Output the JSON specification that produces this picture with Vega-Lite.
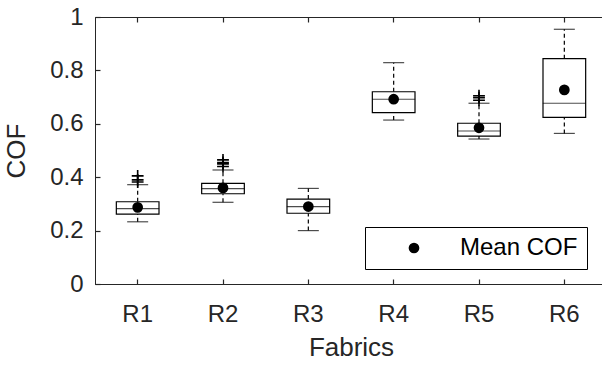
{
  "$schema": "https://vega.github.io/schema/vega-lite/v6.json",
  "autosize": "none",
  "padding": {"left": 95, "top": 17, "right": 0, "bottom": 82},
  "width": 512,
  "height": 267,
  "background": "white",
  "config": {
    "font": "Liberation Sans",
    "view": {"stroke": "#262626", "strokeWidth": 1},
    "axis": {
      "domainColor": "#262626",
      "tickColor": "#262626",
      "labelColor": "#262626",
      "titleColor": "#262626",
      "labelFont": "Liberation Sans",
      "titleFont": "Liberation Sans",
      "labelFontSize": 24,
      "labelFontWeight": "normal",
      "titleFontSize": 26,
      "titleFontWeight": "normal",
      "grid": false,
      "tickSize": -5,
      "tickWidth": 1.2
    }
  },
  "datasets": {
    "stats": [
      {"fabric": "R1", "lower": 0.233, "q1": 0.262, "median": 0.282, "q3": 0.308, "upper": 0.372, "mean": 0.287},
      {"fabric": "R2", "lower": 0.306, "q1": 0.338, "median": 0.357, "q3": 0.377, "upper": 0.427, "mean": 0.36},
      {"fabric": "R3", "lower": 0.2, "q1": 0.265, "median": 0.29, "q3": 0.318, "upper": 0.358, "mean": 0.29},
      {"fabric": "R4", "lower": 0.614, "q1": 0.642, "median": 0.692, "q3": 0.72, "upper": 0.829, "mean": 0.692},
      {"fabric": "R5", "lower": 0.543, "q1": 0.554, "median": 0.573, "q3": 0.602, "upper": 0.677, "mean": 0.585},
      {"fabric": "R6", "lower": 0.564, "q1": 0.624, "median": 0.677, "q3": 0.844, "upper": 0.954, "mean": 0.727}
    ],
    "outliers": [
      {"fabric": "R1", "value": 0.382},
      {"fabric": "R1", "value": 0.39},
      {"fabric": "R1", "value": 0.405},
      {"fabric": "R2", "value": 0.44},
      {"fabric": "R2", "value": 0.45},
      {"fabric": "R2", "value": 0.455},
      {"fabric": "R2", "value": 0.465},
      {"fabric": "R5", "value": 0.688},
      {"fabric": "R5", "value": 0.698},
      {"fabric": "R5", "value": 0.705}
    ]
  },
  "layer": [
    {
      "data": {"name": "stats"},
      "mark": {"type": "rule", "color": "black", "strokeDash": [4, 3], "strokeWidth": 1.2},
      "encoding": {
        "x": {
          "field": "fabric",
          "type": "nominal",
          "sort": ["R1", "R2", "R3", "R4", "R5", "R6"],
          "scale": {"type": "band", "paddingInner": 0, "paddingOuter": 0, "domain": ["R1", "R2", "R3", "R4", "R5", "R6"]},
          "axis": {"title": "Fabrics", "labelAngle": 0, "labelPadding": 23, "titlePadding": 8, "orient": "bottom"}
        },
        "y": {"field": "q3", "type": "quantitative", "scale": {"domain": [0, 1], "nice": false, "zero": true},
              "axis": {"title": "COF", "values": [0, 0.2, 0.4, 0.6, 0.8, 1], "format": "~g", "labelPadding": 17, "titlePadding": 20}},
        "y2": {"field": "upper"}
      }
    },
    {
      "data": {"name": "stats"},
      "mark": {"type": "rule", "color": "black", "strokeDash": [4, 3], "strokeWidth": 1.2},
      "encoding": {
        "x": {"field": "fabric", "type": "nominal", "axis": null},
        "y": {"field": "lower", "type": "quantitative"},
        "y2": {"field": "q1"}
      }
    },
    {
      "data": {"name": "stats"},
      "mark": {"type": "bar", "fill": "white", "stroke": "black", "strokeWidth": 1.2, "width": {"band": 0.5}},
      "encoding": {
        "x": {"field": "fabric", "type": "nominal", "axis": null},
        "y": {"field": "q1", "type": "quantitative"},
        "y2": {"field": "q3"}
      }
    },
    {
      "data": {"name": "stats"},
      "mark": {"type": "tick", "color": "black", "size": 43, "thickness": 1.2},
      "encoding": {
        "x": {"field": "fabric", "type": "nominal", "axis": null},
        "y": {"field": "median", "type": "quantitative"}
      }
    },
    {
      "data": {"name": "stats"},
      "mark": {"type": "tick", "color": "black", "size": 21, "thickness": 1.2},
      "encoding": {
        "x": {"field": "fabric", "type": "nominal", "axis": null},
        "y": {"field": "upper", "type": "quantitative"}
      }
    },
    {
      "data": {"name": "stats"},
      "mark": {"type": "tick", "color": "black", "size": 21, "thickness": 1.2},
      "encoding": {
        "x": {"field": "fabric", "type": "nominal", "axis": null},
        "y": {"field": "lower", "type": "quantitative"}
      }
    },
    {
      "data": {"name": "outliers"},
      "mark": {"type": "point", "shape": "M-1,0H1M0,-1V1", "filled": false, "stroke": "black", "strokeWidth": 1.6, "size": 140, "opacity": 1},
      "encoding": {
        "x": {"field": "fabric", "type": "nominal", "axis": null},
        "y": {"field": "value", "type": "quantitative"}
      }
    },
    {
      "data": {"name": "stats"},
      "mark": {"type": "point", "filled": true, "shape": "circle", "size": 115, "opacity": 1},
      "encoding": {
        "x": {"field": "fabric", "type": "nominal",
              "axis": {"orient": "top", "labels": false, "title": null, "domain": false, "ticks": true, "tickSize": -5}},
        "y": {"field": "mean", "type": "quantitative"},
        "color": {
          "datum": "Mean COF",
          "scale": {"range": ["black"]},
          "legend": {
            "title": null,
            "orient": "none",
            "legendX": 270,
            "legendY": 210,
            "strokeColor": "black",
            "fillColor": "white",
            "padding": 9,
            "labelFontSize": 24,
            "labelColor": "black",
            "labelFont": "Liberation Sans",
            "symbolSize": 115,
            "symbolType": "circle",
            "symbolOffset": 28,
            "labelOffset": 34
          }
        }
      }
    }
  ],
  "resolve": {"axis": {"x": "independent"}}
}
